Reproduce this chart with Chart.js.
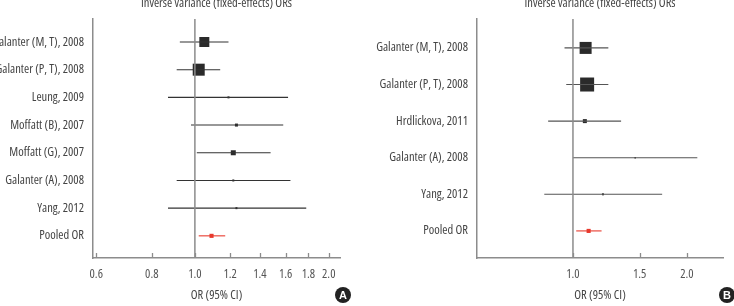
<!DOCTYPE html>
<html>
<head>
<meta charset="utf-8">
<script src="https://cdn.jsdelivr.net/npm/chart.js@4.4.1/dist/chart.umd.min.js"></script>
<style>
  html, body { margin: 0; padding: 0; background: #fff; overflow: hidden; }
  body { width: 734px; height: 306px; position: relative; }
  .panel { position: absolute; top: -8px; height: 314px; }
  #wrapA { left: -20px; width: 380px; }
  #wrapB { left: 364px; width: 370px; }
  .badge {
    position: absolute; width: 16px; height: 16px; border-radius: 50%;
    background: #222; color: #fff; font: bold 11px "Liberation Sans", sans-serif;
    text-align: center; line-height: 16px;
  }
</style>
</head>
<body>
<div class="panel" id="wrapA"><canvas id="chartA"></canvas></div>
<div class="panel" id="wrapB"><canvas id="chartB"></canvas></div>
<div class="badge" style="left:335px;top:287px">A</div>
<div class="badge" style="left:719px;top:287px">B</div>
<script>
// panel A
const studiesA = ['Galanter (M, T), 2008', 'Galanter (P, T), 2008', 'Leung, 2009', 'Moffatt (B), 2007',
  'Moffatt (G), 2007', 'Galanter (A), 2008', 'Yang, 2012'];
const orA = [1.05, 1.02, 1.19, 1.24, 1.22, 1.22, 1.24];
const lowA = [0.925, 0.91, 0.87, 0.98, 1.01, 0.91, 0.87];
const highA = [1.19, 1.14, 1.62, 1.58, 1.48, 1.64, 1.78];
const weightA = [25, 36, 1, 2.25, 6.25, 1, 1];
const pooledA = [1.09, 1.02, 1.17];
const xTicksA = [0.6, 0.8, 1.0, 1.2, 1.4, 1.6, 1.8, 2.0];

// panel B
const studiesB = ['Galanter (M, T), 2008', 'Galanter (P, T), 2008', 'Hrdlickova, 2011',
  'Galanter (A), 2008', 'Yang, 2012'];
const orB = [1.08, 1.09, 1.075, 1.46, 1.20];
const lowB = [0.95, 0.96, 0.86, 1.00, 0.84];
const highB = [1.24, 1.24, 1.34, 2.13, 1.72];
const weightB = [36, 49, 4, 0.6, 1];
const pooledB = [1.10, 1.02, 1.19];
const xTicksB = [1.0, 1.5, 2.0];

// condensed face of Open Sans via font-stretch in the font shorthand
const FONT = { family: '"Open Sans", "DejaVu Sans Condensed", sans-serif', size: 12.5, weight: 'normal condensed' };
const AXIS = '#8c8c8c';
const RED = '#e8392d';

const innerTicks = {
  id: 'innerTicks',
  afterDraw(chart) {
    const { ctx, scales: { x }, chartArea } = chart;
    ctx.save();
    ctx.strokeStyle = AXIS;
    ctx.lineWidth = 1.3;
    x.ticks.forEach(t => {
      const px = Math.round(x.getPixelForValue(t.value)) + 0.5;
      ctx.beginPath();
      ctx.moveTo(px, chartArea.bottom);
      ctx.lineTo(px, chartArea.bottom - 5);
      ctx.stroke();
    });
    ctx.restore();
  }
};

function forest(id, names, est, lo, hi, weight, pooled, xTicks, opts) {
  const labels = names.concat(['Pooled OR']);
  const n = names.length;
  const datasets = [];

  // reference line at OR = 1
  datasets.push({
    data: [{ x: 1, y: opts.yMin }, { x: 1, y: opts.yMax }],
    showLine: true, borderColor: AXIS, borderWidth: 1.5, pointRadius: 0
  });

  names.forEach((_, i) => {
    datasets.push({
      data: [{ x: lo[i], y: i }, { x: hi[i], y: i }],
      showLine: true, borderColor: opts.ciColor, borderWidth: 1.1, pointRadius: 0
    });
  });
  datasets.push({
    data: [{ x: pooled[1], y: n }, { x: pooled[2], y: n }],
    showLine: true, borderColor: RED, borderWidth: 1.1, pointRadius: 0
  });

  datasets.push({
    data: est.map((v, i) => ({ x: v, y: i })),
    pointStyle: 'rect',
    pointRadius: weight.map(w => 2 * Math.sqrt(w) / Math.SQRT2),
    backgroundColor: '#2a2a2a', borderWidth: 0
  });
  datasets.push({
    data: [{ x: pooled[0], y: n }],
    pointStyle: 'rect', pointRadius: 2.9, backgroundColor: RED, borderWidth: 0
  });

  return new Chart(document.getElementById(id), {
    type: 'scatter',
    data: { datasets },
    options: {
      responsive: true, maintainAspectRatio: false, animation: false,
      layout: { padding: { left: 0, right: opts.padRight, top: 0, bottom: 0 } },
      plugins: {
        legend: { display: false }, tooltip: { enabled: false },
        title: {
          display: true, text: 'Inverse variance (fixed-effects) ORs', fullSize: false,
          color: '#444', font: FONT,
          padding: { top: 3.5, bottom: 8.5 }
        }
      },
      scales: {
        x: {
          type: 'logarithmic', min: opts.xMin, max: opts.xMax,
          afterBuildTicks: s => { s.ticks = xTicks.map(v => ({ value: v })); },
          afterFit: s => { s.height = 48; },
          grid: { display: false, drawTicks: false },
          border: { color: AXIS, width: 1.5 },
          ticks: {
            color: '#555', font: FONT, padding: 9,
            maxRotation: 0, autoSkip: false,
            callback: v => Number(v).toFixed(1)
          },
          title: {
            display: true, text: 'OR (95% CI)', color: '#444',
            font: FONT, padding: { top: 0, bottom: 3 }
          }
        },
        y: {
          type: 'linear', reverse: true, min: opts.yMin, max: opts.yMax,
          afterBuildTicks: s => { s.ticks = labels.map((_, i) => ({ value: i })); },
          afterFit: s => { s.width = opts.yWidth; },
          grid: { display: false, drawTicks: false },
          border: { color: AXIS, width: 1.5 },
          ticks: {
            color: '#444', font: FONT, padding: 9,
            callback: v => labels[v] || ''
          }
        }
      }
    },
    plugins: [innerTicks]
  });
}

forest('chartA', studiesA, orA, lowA, highA, weightA, pooledA, xTicksA, {
  xMin: 0.59, xMax: 2.12, yMin: -0.83, yMax: 7.8, yWidth: 113, padRight: 20, ciColor: '#333'
});
forest('chartB', studiesB, orB, lowB, highB, weightB, pooledB, xTicksB, {
  xMin: 0.558, xMax: 2.49, yMin: -0.79, yMax: 5.74, yWidth: 113, padRight: 11, ciColor: '#555'
});
</script>
</body>
</html>
